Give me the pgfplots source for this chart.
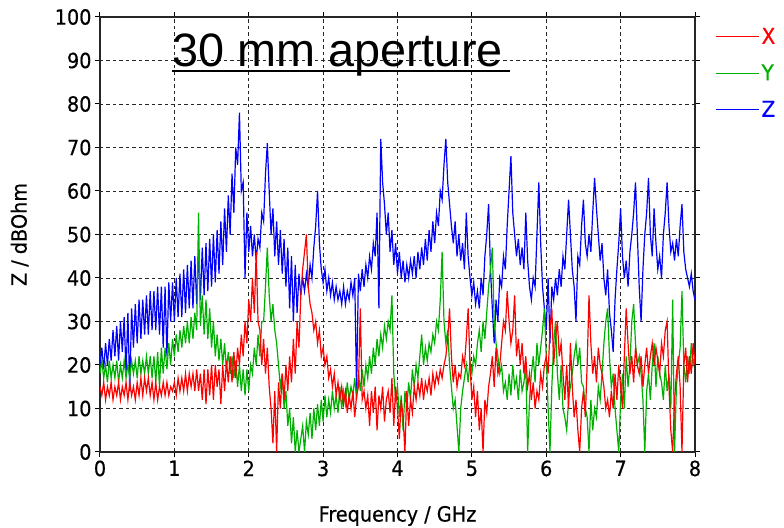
\documentclass[border=0pt]{standalone}
\usepackage{fontspec}
\setmainfont{DejaVu Sans}[FakeStretch=0.92, FakeBold=0.5]
\newfontfamily\arialfont{Liberation Sans}
\usepackage{pgfplots}
\usepackage{pgfplotstable}
\pgfplotsset{compat=1.18}

\definecolor{cX}{RGB}{255,0,0}
\definecolor{cY}{RGB}{0,176,0}
\definecolor{cZ}{RGB}{0,0,255}

% one value every 25 MHz, from 0 to 8 GHz
\pgfplotstableread[header=false,row sep=\\]{
15\\13\\16\\12\\15\\13\\16\\12\\15\\13\\
16\\12\\15\\13\\16\\12\\16\\13\\15\\12\\
16\\13\\17\\13\\17\\14\\17\\13\\16\\12\\
16\\12\\15\\13\\16\\13\\16\\13\\15\\14\\
16\\13\\17\\14\\17\\14\\18\\14\\18\\15\\
18\\14\\19\\14\\18\\12\\19\\11\\19\\13\\
20\\12\\20\\15\\19\\11\\20\\14\\21\\16\\
22\\16\\23\\17\\24\\20\\27\\22\\30\\25\\
35\\30\\40\\32\\46\\30\\28\\20\\26\\18\\
24\\15\\10\\2\\14\\0\\16\\10\\18\\12\\
20\\14\\22\\16\\26\\18\\30\\24\\36\\42\\
46\\50\\38\\34\\32\\28\\30\\25\\28\\22\\
24\\20\\22\\17\\19\\15\\18\\13\\16\\12\\
15\\11\\14\\9\\13\\10\\14\\8\\13\\15\\
33\\12\\14\\10\\13\\6\\14\\9\\15\\5\\
13\\10\\15\\7\\12\\14\\9\\17\\6\\15\\
10\\3\\12\\8\\0\\14\\6\\12\\9\\15\\
12\\16\\13\\17\\12\\16\\14\\17\\13\\18\\
15\\18\\16\\19\\17\\20\\22\\26\\33\\22\\
16\\20\\15\\18\\17\\22\\20\\26\\33\\20\\
12\\15\\8\\14\\5\\10\\0\\12\\9\\15\\
18\\22\\15\\24\\18\\20\\25\\30\\28\\37\\
30\\25\\28\\36\\22\\26\\20\\25\\18\\22\\
15\\18\\12\\16\\10\\14\\12\\18\\15\\20\\
22\\18\\28\\33\\20\\26\\30\\22\\25\\18\\
12\\20\\10\\25\\15\\8\\12\\5\\0\\10\\
14\\8\\20\\36\\25\\18\\22\\16\\24\\20\\
18\\15\\10\\12\\8\\14\\10\\18\\12\\20\\
15\\10\\22\\33\\25\\18\\22\\16\\24\\20\\
18\\22\\15\\20\\24\\18\\22\\25\\20\\24\\
21\\18\\25\\22\\28\\30\\15\\5\\0\\12\\
18\\22\\15\\0\\20\\24\\16\\22\\18\\25\\20\\
}\tabX

\pgfplotstableread[header=false,row sep=\\]{
18\\21\\17\\20\\16\\21\\17\\20\\17\\21\\
16\\20\\17\\21\\17\\20\\17\\21\\18\\21\\
17\\22\\18\\21\\18\\22\\18\\22\\17\\22\\
16\\23\\15\\24\\18\\24\\19\\25\\20\\26\\
22\\27\\23\\28\\24\\29\\25\\30\\25\\31\\
26\\32\\28\\55\\29\\36\\27\\35\\26\\33\\
24\\30\\22\\27\\21\\26\\20\\25\\19\\23\\
18\\22\\17\\21\\15\\20\\14\\19\\13\\19\\
14\\20\\18\\24\\20\\27\\22\\30\\30\\38\\
47\\36\\30\\34\\28\\25\\20\\15\\18\\10\\
14\\6\\10\\2\\8\\0\\5\\0\\3\\6\\
0\\7\\4\\9\\3\\10\\5\\11\\6\\12\\
7\\13\\8\\12\\9\\14\\10\\13\\9\\15\\
10\\14\\11\\16\\12\\15\\13\\17\\12\\18\\
14\\19\\15\\20\\17\\22\\18\\24\\20\\26\\
22\\27\\24\\29\\26\\30\\28\\36\\18\\12\\
15\\8\\13\\5\\14\\10\\16\\12\\19\\15\\
20\\17\\22\\27\\20\\24\\21\\25\\23\\27\\
25\\30\\28\\35\\46\\30\\25\\28\\20\\15\\
10\\12\\6\\0\\10\\14\\17\\20\\16\\21\\
18\\22\\20\\25\\28\\23\\30\\26\\32\\38\\
42\\47\\30\\25\\22\\18\\20\\14\\16\\12\\
18\\13\\20\\15\\17\\12\\19\\14\\16\\20\\
0\\12\\18\\22\\16\\25\\20\\24\\28\\33\\
22\\10\\0\\15\\25\\30\\18\\12\\20\\10\\
8\\5\\12\\15\\18\\22\\25\\20\\24\\16\\
15\\10\\8\\0\\12\\5\\10\\8\\15\\12\\
18\\25\\30\\33\\22\\15\\18\\10\\5\\0\\
12\\18\\10\\22\\15\\20\\30\\34\\25\\20\\
22\\18\\12\\0\\14\\18\\12\\20\\25\\15\\
22\\18\\16\\12\\20\\14\\18\\10\\35\\0\\
15\\20\\24\\37\\20\\16\\22\\18\\25\\20\\22\\
}\tabY

\pgfplotstableread[header=false,row sep=\\]{
20\\24\\19\\25\\20\\26\\21\\28\\22\\29\\
21\\30\\23\\31\\18\\32\\14\\33\\24\\34\\
25\\35\\26\\35\\27\\36\\27\\37\\28\\37\\
28\\38\\27\\38\\24\\38\\22\\39\\30\\39\\
30\\40\\31\\41\\31\\42\\32\\43\\33\\44\\
33\\45\\34\\46\\35\\47\\36\\48\\37\\49\\
38\\50\\39\\51\\41\\53\\43\\56\\46\\59\\
50\\64\\55\\70\\66\\78\\60\\62\\40\\55\\
46\\52\\45\\50\\44\\49\\47\\55\\53\\64\\
71\\60\\50\\56\\45\\53\\43\\51\\41\\49\\
38\\47\\33\\45\\30\\43\\32\\41\\36\\40\\
37\\41\\38\\43\\40\\47\\52\\60\\48\\42\\
39\\42\\37\\40\\36\\39\\35\\38\\35\\37\\
34\\38\\34\\37\\35\\39\\36\\40\\14\\41\\
37\\42\\38\\43\\40\\45\\42\\48\\45\\55\\
33\\72\\62\\57\\50\\55\\46\\51\\43\\48\\
41\\46\\40\\44\\39\\43\\40\\44\\41\\45\\
40\\46\\42\\47\\43\\49\\44\\51\\46\\53\\
48\\55\\52\\60\\58\\66\\72\\62\\57\\52\\
48\\53\\45\\50\\44\\48\\42\\55\\45\\40\\
36\\39\\34\\37\\33\\40\\36\\45\\50\\57\\
42\\33\\25\\35\\30\\40\\38\\45\\42\\52\\
60\\68\\55\\50\\45\\49\\43\\47\\42\\55\\
44\\38\\35\\40\\38\\50\\62\\48\\38\\33\\
28\\40\\25\\38\\35\\40\\36\\42\\38\\45\\
42\\50\\58\\50\\42\\38\\30\\45\\43\\52\\
58\\48\\45\\50\\46\\55\\63\\56\\50\\44\\
48\\40\\36\\42\\32\\28\\23\\35\\42\\48\\
56\\45\\40\\44\\38\\46\\50\\55\\62\\50\\
38\\30\\42\\50\\55\\63\\50\\45\\56\\48\\
42\\45\\40\\50\\55\\62\\52\\46\\48\\44\\
49\\45\\52\\57\\46\\42\\40\\38\\41\\37\\35\\
}\tabZ

\begin{document}
\begin{tikzpicture}
\path[use as bounding box] (-100bp,-76bp) rectangle (684bp,452bp);
\begin{axis}[
    at={(0,0)}, anchor=south west,
    scale only axis, width=595bp, height=435bp,
    xmin=0, xmax=8, ymin=0, ymax=100,
    xtick={0,1,...,8}, ytick={0,10,...,100},
    grid=major,
    major grid style={black!85, dash pattern=on 3.5bp off 3bp, line width=0.9bp},
    axis line style={black!85, line width=1.3bp},
    tick align=outside, major tick length=5bp,
    tick style={black, line width=1bp},
    ticklabel style={font=\fontsize{21}{21}\selectfont},
    /pgf/number format/assume math mode=true,
    xlabel={Frequency / GHz}, ylabel={Z / dBOhm},
    label style={font=\fontsize{21}{21}\selectfont},
    xlabel style={at={(rel axis cs:0.5,-0.147)}, anchor=center},
    ylabel style={at={(rel axis cs:-0.135,0.5)}, anchor=center},
    legend style={draw=none, fill=none, at={(1.034,0.98)}, anchor=north west,
      font=\fontsize{22}{22}\selectfont, row sep=15bp, inner sep=0pt},
    legend image code/.code={\draw[#1] (0bp,0bp) -- (43bp,0bp);},
    legend cell align=left,
  ]
  \addlegendimage{cX, line width=1.1bp}
  \addlegendentry{\textcolor{cX}{X}}
  \addlegendimage{cY, line width=1.1bp}
  \addlegendentry{\textcolor{cY}{Y}}
  \addlegendimage{cZ, line width=1.1bp}
  \addlegendentry{\textcolor{cZ}{Z}}

  \addplot[cZ, line width=1.2bp, forget plot] table[x expr=\coordindex/40, y index=0] {\tabZ};
  \addplot[cY, line width=1.2bp, forget plot] table[x expr=\coordindex/40, y index=0] {\tabY};
  \addplot[cX, line width=1.2bp, forget plot] table[x expr=\coordindex/40, y index=0] {\tabX};

  \node[anchor=base west, inner sep=0pt, font=\arialfont\fontsize{47}{47}\selectfont]
    at (rel axis cs:0.121,0.887) {30 mm aperture};
  \draw[black, line width=2.5bp] (rel axis cs:0.121,0.876) -- (rel axis cs:0.689,0.876);
\end{axis}
\end{tikzpicture}
\end{document}
